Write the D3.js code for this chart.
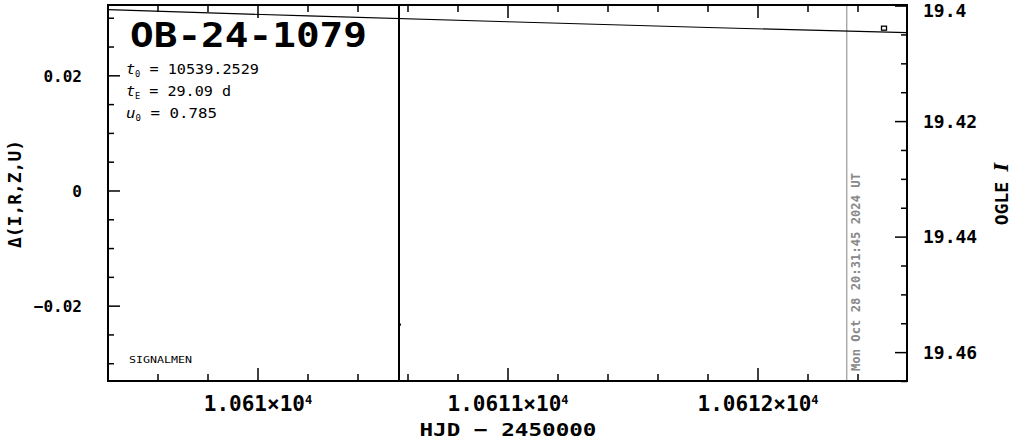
<!DOCTYPE html>
<html><head><meta charset="utf-8">
<script src="https://cdn.jsdelivr.net/npm/d3@7"></script>
<style>
html,body{margin:0;padding:0;background:#fff;}
svg{display:block;}
text{font-family:"DejaVu Sans Mono",monospace;}
</style></head>
<body><div id="chart"></div>
<script>
// ---- data ----
const eventName = "OB-24-1079";
const paramLabels = [
  {sym:"t", sub:"0", val:" = 10539.2529", len:133},
  {sym:"t", sub:"E", val:" = 29.09 d", len:105},
  {sym:"u", sub:"0", val:" = 0.785", len:91}
];
// model light curve (HJD-2450000, OGLE I mag)
const modelHJD = [10609.4, 10610.2, 10611.0, 10611.8, 10612.6];
const modelMag = [19.4007, 19.4018, 19.4028, 19.4038, 19.4047];
// OGLE I data point(s)
const dataHJD = [10612.504];
const dataMag = [19.4040];
// residual point(s) with error bar
const resHJD = [10610.564];
const resVal = [-0.0232];
const resErr = [0.5];
// current time marker
const nowHJD = 10612.355;
const nowLabel = "Mon Oct 28 20:31:45 2024 UT";
// axes
const xDomain = [10609.4, 10612.596];
const resDomain = [0.0323, -0.0330];
const magDomain = [19.3999, 19.4650];
const xMajor = [10610, 10611, 10612];
const xMajorLabels = ["1.061", "1.0611", "1.0612"];
const resMajor = [0.02, 0, -0.02];
const resMajorLabels = ["0.02", "0", "\u22120.02"];
const magMajor = [19.40, 19.42, 19.44, 19.46];
const magMajorLabels = ["19.4", "19.42", "19.44", "19.46"];

const W = 1011, H = 439;
const L = 108, R = 907, T = 5, B = 381;
const svg = d3.select("#chart").append("svg").attr("width", W).attr("height", H);

const x = d3.scaleLinear().domain(xDomain).range([L, R]);
const yRes = d3.scaleLinear().domain(resDomain).range([T, B]);
const yMag = d3.scaleLinear().domain(magDomain).range([T, B]);

svg.append("clipPath").attr("id","clip").append("rect")
  .attr("x", L).attr("y", T).attr("width", R-L).attr("height", B-T);
const plot = svg.append("g").attr("clip-path","url(#clip)");

// now marker
plot.append("line").attr("x1", x(nowHJD)).attr("x2", x(nowHJD))
  .attr("y1", T).attr("y2", B).attr("stroke", "#999").attr("stroke-width", 1.2);

// model curve
const line = d3.line().x((d,i)=>x(modelHJD[i])).y(d=>yMag(d));
plot.append("path").datum(modelMag).attr("d", line)
  .attr("fill","none").attr("stroke","#000").attr("stroke-width",1.2);

// residual points with error bars
resHJD.forEach((t,i)=>{
  plot.append("line").attr("x1", x(t)).attr("x2", x(t))
    .attr("y1", yRes(resVal[i]-resErr[i])).attr("y2", yRes(resVal[i]+resErr[i]))
    .attr("stroke","#000").attr("stroke-width",2);
  plot.append("rect").attr("x", x(t)-1).attr("y", yRes(resVal[i])-1)
    .attr("width",3).attr("height",2).attr("fill","#000");
});

// data points
dataHJD.forEach((t,i)=>{
  plot.append("rect").attr("x", x(t)-2.5).attr("y", yMag(dataMag[i])-2.5)
    .attr("width",5).attr("height",4).attr("fill","none")
    .attr("stroke","#000").attr("stroke-width",1.3);
});

// now label
svg.append("text").attr("transform", `translate(${x(nowHJD)+13},371) rotate(-90)`)
  .attr("font-size",12).attr("font-weight","bold").attr("fill","#888")
  .attr("textLength",198).attr("lengthAdjust","spacingAndGlyphs")
  .text(nowLabel);

// axes: ticks
const tickG = svg.append("g").attr("stroke","#000").attr("stroke-width",1.5);
const xMinor = d3.range(0, 17).map(i => 10609.4 + i*0.2).filter(v => v <= xDomain[1]+1e-9);
xMinor.forEach(v=>{
  const major = xMajor.some(m=>Math.abs(m-v)<1e-6);
  const len = major ? 13 : 7;
  tickG.append("line").attr("x1",x(v)).attr("x2",x(v)).attr("y1",B).attr("y2",B-len);
  tickG.append("line").attr("x1",x(v)).attr("x2",x(v)).attr("y1",T).attr("y2",T+len);
});
const resMinor = d3.range(-6, 7).map(i => i*0.005);
resMinor.forEach(v=>{
  const yy = yRes(v); if (yy < T || yy > B) return;
  const major = resMajor.some(m=>Math.abs(m-v)<1e-9);
  tickG.append("line").attr("x1",L).attr("x2",L+(major?12:6)).attr("y1",yy).attr("y2",yy);
});
const magMinor = d3.range(0, 14).map(i => 19.40 + i*0.005);
magMinor.forEach(v=>{
  const yy = yMag(v); if (yy < T-1 || yy > B) return;
  const major = magMajor.some(m=>Math.abs(m-v)<1e-9);
  tickG.append("line").attr("x1",R).attr("x2",R-(major?12:6)).attr("y1",yy+0.5).attr("y2",yy+0.5);
});

// frame
svg.append("rect").attr("x",L).attr("y",T).attr("width",R-L).attr("height",B-T)
  .attr("fill","none").attr("stroke","#000").attr("stroke-width",2);

// tick labels
xMajor.forEach((v,i)=>{
  const t = svg.append("text").attr("x",x(v)).attr("y",411).attr("text-anchor","middle")
    .attr("font-size",21).attr("font-weight","bold");
  t.append("tspan").text(xMajorLabels[i] + "\u00d710");
  t.append("tspan").attr("dy",-7).attr("font-size",12).text("4");
});
resMajor.forEach((v,i)=>{
  svg.append("text").attr("x",82).attr("y",yRes(v)+6).attr("text-anchor","end")
    .attr("font-size",16).attr("font-weight","bold").text(resMajorLabels[i]);
});
magMajor.forEach((v,i)=>{
  svg.append("text").attr("x",923).attr("y",Math.max(yMag(v),10)+6.5)
    .attr("font-size",18).attr("font-weight","bold").text(magMajorLabels[i]);
});

// axis titles
svg.append("text").attr("x",508).attr("y",436).attr("text-anchor","middle")
  .attr("font-size",18).attr("font-weight","bold")
  .attr("textLength",177).attr("lengthAdjust","spacingAndGlyphs")
  .text("HJD \u2212 2450000");
svg.append("text").attr("transform","translate(21,194) rotate(-90)").attr("text-anchor","middle")
  .attr("font-size",18).attr("font-weight","bold")
  .attr("textLength",108).attr("lengthAdjust","spacingAndGlyphs")
  .text("\u0394(I,R,Z,U)");
const og = svg.append("text").attr("transform","translate(1008,194) rotate(-90)").attr("text-anchor","middle")
  .attr("font-size",18).attr("font-weight","bold");
og.append("tspan").text("OGLE ");
og.append("tspan").attr("font-style","italic").attr("font-family","DejaVu Serif").text("I");

// title & params
svg.append("text").attr("x",130).attr("y",47).attr("font-size",34).attr("font-weight","bold")
  .attr("textLength",237).attr("lengthAdjust","spacingAndGlyphs").text(eventName);
paramLabels.forEach((p,i)=>{
  const t = svg.append("text").attr("x",126).attr("y",74+i*22).attr("font-size",14)
    .attr("textLength",p.len).attr("lengthAdjust","spacingAndGlyphs");
  t.append("tspan").attr("font-style","italic").text(p.sym);
  t.append("tspan").attr("dy",3).attr("font-size",8).text(p.sub);
  t.append("tspan").attr("dy",-3).text(p.val);
});
svg.append("text").attr("x",129).attr("y",363).attr("font-size",9)
  .attr("font-family","DejaVu Serif")
  .attr("textLength",63).attr("lengthAdjust","spacingAndGlyphs").text("SIGNALMEN");
</script></body></html>
